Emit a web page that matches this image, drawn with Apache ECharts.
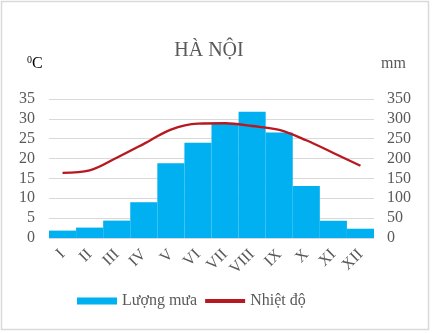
<!DOCTYPE html>
<html><head><meta charset="utf-8">
<script src="https://cdn.jsdelivr.net/npm/echarts@6/dist/echarts.min.js"></script>
<style>html,body{margin:0;padding:0;background:#fff}#c{width:433px;height:333px}</style>
</head><body><div id="c"></div>
<script>
const categories = ['I','II','III','IV','V','VI','VII','VIII','IX','X','XI','XII'];
const rainfall = [18.6, 26.2, 43.8, 90.1, 188.5, 239.9, 288.2, 318.0, 265.4, 130.7, 43.4, 23.4];
const temperature = [16.4, 17.0, 20.2, 23.7, 27.3, 28.8, 28.9, 28.2, 27.2, 24.6, 21.4, 18.2];
const title = 'HÀ NỘI';
const seriesNames = ['Lượng mưa', 'Nhiệt độ'];

const F = '"Liberation Serif", "Times New Roman", serif';
const txt = '#595959';
const chart = echarts.init(document.getElementById('c'), null, {renderer:'canvas'});
chart.setOption({
  animation:false,
  backgroundColor:'#fff',
  graphic:[
    {type:'rect',shape:{x:1.5,y:1.5,width:427,height:328},style:{fill:null,stroke:'#d9d9d9',lineWidth:1.5},silent:true},
    {type:'text',x:209,y:41,style:{text:title,fontFamily:F,fontSize:20,fill:txt,textAlign:'center'}},
    {type:'text',left:27,top:55,style:{rich:{s:{fontFamily:F,fontSize:10,color:txt,verticalAlign:'top',padding:[0,0,7,0]},n:{fontFamily:F,fontSize:16,color:txt}},text:'{s|0}{n|C}'}},
    {type:'text',left:381,top:56,style:{text:'mm',fontFamily:F,fontSize:16,fill:txt}}
  ],
  grid:{left:49,right:59,top:99,bottom:95},
  legend:{bottom:19,left:72,itemGap:8,textStyle:{fontFamily:F,fontSize:16,color:txt},
    data:[{name:seriesNames[0],icon:'rect'},{name:seriesNames[1],icon:'path://M0,0H10V1H0Z'}],
    itemWidth:40,itemHeight:7},
  xAxis:{type:'category',data:categories,axisTick:{show:false},
    axisLine:{lineStyle:{color:'#d9d9d9'}},
    axisLabel:{rotate:45,margin:14,interval:0,fontFamily:F,fontSize:16,color:txt}},
  yAxis:[
    {type:'value',min:0,max:35,interval:5,axisLine:{show:false},axisTick:{show:false},
     splitLine:{lineStyle:{color:'#d9d9d9'}},axisLabel:{fontFamily:F,fontSize:16,color:txt,margin:14}},
    {type:'value',min:0,max:350,interval:50,axisLine:{show:false},axisTick:{show:false},
     splitLine:{show:false},axisLabel:{fontFamily:F,fontSize:16,color:txt,margin:13}}
  ],
  series:[
    {name:seriesNames[0],type:'bar',yAxisIndex:1,data:rainfall,barCategoryGap:'0%',itemStyle:{color:'#00B0F0'}},
    {name:seriesNames[1],type:'line',yAxisIndex:0,data:temperature,smooth:0.35,symbol:'none',
     lineStyle:{color:'#B81820',width:2.3},itemStyle:{color:'#B81820'}}
  ]
});
</script></body></html>
